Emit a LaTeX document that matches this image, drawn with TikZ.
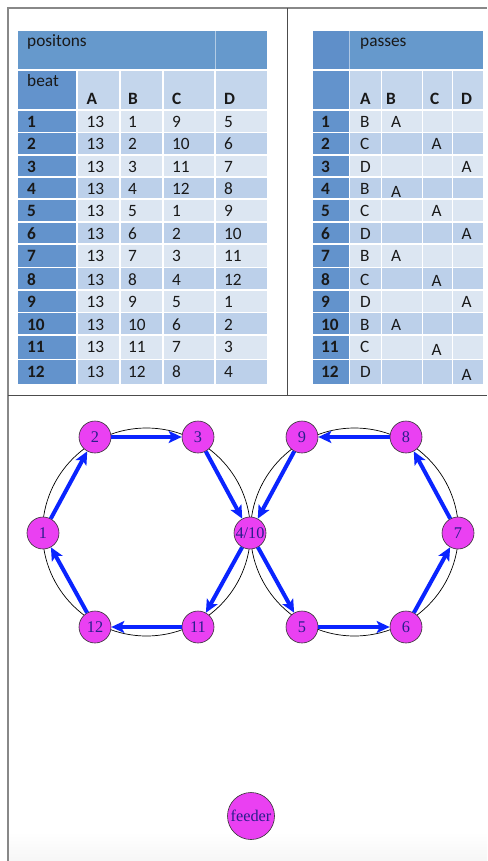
\documentclass[tikz,border=0pt]{standalone}
\usepackage{fontspec}
\setmainfont{Liberation Serif}
\newfontfamily\calfont{Carlito}
\usetikzlibrary{arrows.meta}
\definecolor{hdr}{HTML}{6699CC}
\definecolor{hdrdark}{HTML}{5F8FC9}
\definecolor{fcol}{HTML}{6393CC}
\definecolor{rowlight}{HTML}{DCE6F2}
\definecolor{rowdark}{HTML}{BCD0EA}
\definecolor{hdrtwo}{HTML}{C4D6EC}
\definecolor{nodefill}{HTML}{EA40F2}
\definecolor{nodetext}{HTML}{2A1E8C}
\definecolor{arrowblue}{HTML}{0A24FF}
\definecolor{framegray}{HTML}{888888}
\begin{document}
\begin{tikzpicture}[x=1pt,y=-1pt,
  cell/.style={font=\calfont\fontsize{17.3}{18}\selectfont, anchor=base west, inner sep=0pt, text=black!90},
  bcell/.style={cell, font=\calfont\bfseries\fontsize{17.3}{18}\selectfont},
  player/.style={circle, draw=black!80, line width=0.6pt, fill=nodefill, minimum size=32pt, inner sep=0pt, text=nodetext, font=\fontsize{16.3}{16}\selectfont},
  pass/.style={draw=arrowblue, line width=4pt, -{Stealth[length=13pt,width=12pt,inset=3pt]}},
  ring/.style={draw=black, line width=0.7pt},
  sep/.style={draw=white, line width=1.3pt},
  faintsep/.style={draw=white, line width=0.5pt, draw opacity=0.5}]
\useasboundingbox (0,0) rectangle (487,861);
\fill[white] (0,0) rectangle (487,861);
\shade[top color=white, bottom color=gray!7] (9,832) rectangle (487,861);
% frame
\draw[framegray, line width=1.6pt] (8,861) -- (8,8) -- (487,8);
\draw[black!70, line width=1pt] (287,8) -- (287,395);
\draw[black!70, line width=1pt] (8,395) -- (487,395);

% ---------- left table ----------
\fill[hdr] (18,31) rectangle (267,70);
\fill[fcol] (18,70) rectangle (77,383.5);
\fill[hdrtwo] (77,70) rectangle (267,110);
\foreach \t/\b/\c in {110/132.5/rowlight,132.5/155/rowdark,155/177/rowlight,177/199/rowdark,199/222/rowlight,222/244/rowdark,244/267.5/rowlight,267.5/290/rowdark,290/312.5/rowlight,312.5/335/rowdark,335/359.5/rowlight,359.5/383.5/rowdark}
  \fill[\c] (77,\t) rectangle (267,\b);
\foreach \x in {77,120,163,215} \draw[sep] (\x,70) -- (\x,383.5);
\draw[faintsep] (215,31) -- (215,70);
\foreach \y in {70,110,132.5,155,177,199,222,244,267.5,290,312.5,335,359.5} \draw[sep] (18,\y) -- (267,\y);
\node[cell] (ptitle) at (27,47) {positons};
\node[cell] (pbeat) at (27,87) {beat};
\node[bcell] (phA) at (86.5,105) {A};
\node[bcell] (phB) at (128,105) {B};
\node[bcell] (phC) at (172,105) {C};
\node[bcell] (phD) at (224,105) {D};
\foreach \k/\t/\c/\d in {1/110/9/5,2/132.5/10/6,3/155/11/7,4/177/12/8,5/199/1/9,6/222/2/10,7/244/3/11,8/267.5/4/12,9/290/5/1,10/312.5/6/2,11/335/7/3,12/359.5/8/4}{
  \node[bcell] (pk\k) at (27,\t+17.5) {\k};
  \node[cell] (pa\k) at (86.5,\t+17.5) {13};
  \node[cell] (pb\k) at (128,\t+17.5) {\k};
  \node[cell] (pc\k) at (172,\t+17.5) {\c};
  \node[cell] (pd\k) at (224,\t+17.5) {\d};
}

% ---------- right table ----------
\fill[hdr] (313,31) rectangle (483,70);
\fill[hdrdark] (313,31) rectangle (349.5,70);
\fill[fcol] (313,70) rectangle (349.5,383.5);
\fill[hdrtwo] (349.5,70) rectangle (483,110);
\foreach \t/\b/\c in {110/132.5/rowlight,132.5/155/rowdark,155/177/rowlight,177/199/rowdark,199/222/rowlight,222/244/rowdark,244/267.5/rowlight,267.5/290/rowdark,290/312.5/rowlight,312.5/335/rowdark,335/359.5/rowlight,359.5/383.5/rowdark}
  \fill[\c] (349.5,\t) rectangle (483,\b);
\foreach \x in {381.5,422.5,452.5} \draw[sep] (\x,70) -- (\x,383.5);
\draw[sep] (349.5,70) -- (349.5,383.5);
\draw[faintsep] (349.5,31) -- (349.5,70);
\foreach \y in {70,110,132.5,155,177,199,222,244,267.5,290,312.5,335,359.5} \draw[sep] (313,\y) -- (483,\y);
\node[cell] (qtitle) at (360,47) {passes};
\node[bcell] (qhA) at (360,105) {A};
\node[bcell] (qhB) at (386,105) {B};
\node[bcell] (qhC) at (430,105) {C};
\node[bcell] (qhD) at (461,105) {D};
\foreach \k/\t/\l/\xa/\dy in {1/110/B/391/0,2/132.5/C/431.5/0,3/155/D/461.5/0,4/177/B/391/3,5/199/C/431.5/0,6/222/D/461.5/0,7/244/B/391/0,8/267.5/C/431.5/1.5,9/290/D/461.5/0,10/312.5/B/391/0,11/335/C/431.5/3,12/359.5/D/461.5/3}{
  \node[bcell] (qk\k) at (321,\t+17.5) {\k};
  \node[cell] (qa\k) at (360,\t+17.5) {\l};
  \node[cell] (qx\k) at (\xa,\t+17.5+\dy) {A};
}

% ---------- diagram ----------
\draw[ring] (146.5,532) circle[radius=104];
\draw[ring] (354.5,532) circle[radius=104];
\node[player] (n1) at (43,533) {1};
\node[player] (n2) at (95,437) {2};
\node[player] (n3) at (198,437) {3};
\node[player] (n4) at (250,533) {4/10};
\node[player] (n11) at (198,627) {11};
\node[player] (n12) at (95,627) {12};
\node[player] (n5) at (302,627) {5};
\node[player] (n6) at (406,627) {6};
\node[player] (n7) at (458,533) {7};
\node[player] (n8) at (406,437) {8};
\node[player] (n9) at (302,437) {9};
\node[player, minimum size=47pt] (feeder) at (251,816) {feeder};
\draw[pass] (n1) -- (n2);
\draw[pass] (n2) -- (n3);
\draw[pass] (n3) -- (n4);
\draw[pass] (n4) -- (n11);
\draw[pass] (n11) -- (n12);
\draw[pass] (n12) -- (n1);
\draw[pass] (n4) -- (n5);
\draw[pass] (n5) -- (n6);
\draw[pass] (n6) -- (n7);
\draw[pass] (n7) -- (n8);
\draw[pass] (n8) -- (n9);
\draw[pass] (n9) -- (n4);
\end{tikzpicture}
\end{document}
